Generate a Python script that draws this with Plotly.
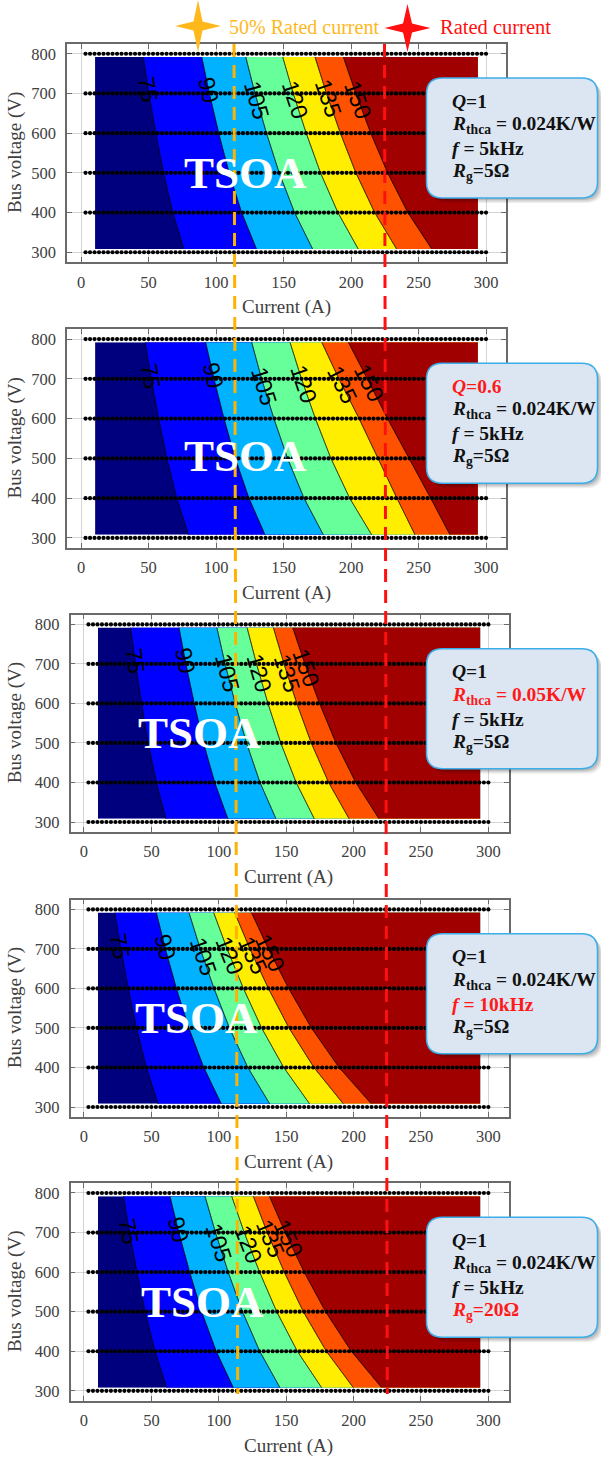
import numpy as np
import plotly.graph_objects as go

W, H = 601, 1458

# ---------------- data ----------------
LEVELS = [75, 90, 105, 120, 135, 150]
V_ROWS = [792, 700, 600, 500, 400, 308]          # bus voltages of the contour table (V)

# current (A) where each temperature level is crossed, at each of V_ROWS
panel1_contours = [
    [46.0, 50.2, 55.3, 61.0, 67.9, 76.0],
    [89.4, 95.1, 102.0, 109.7, 119.0, 130.0],
    [122.0, 128.9, 137.4, 146.8, 158.2, 171.6],
    [149.4, 157.2, 166.8, 177.4, 190.3, 205.4],
    [173.3, 181.8, 192.1, 203.6, 217.5, 233.8],
    [194.3, 203.5, 214.6, 227.1, 242.1, 259.8],
]
panel2_contours = [
    [47.4, 51.9, 57.4, 63.5, 70.8, 79.5],
    [92.3, 98.5, 105.9, 114.3, 124.4, 136.3],
    [126.4, 133.8, 142.9, 153.0, 165.2, 179.5],
    [154.8, 163.3, 173.6, 185.1, 199.0, 215.3],
    [178.3, 191.0, 206.0, 220.0, 234.0, 247.4],
    [198.0, 212.0, 227.0, 243.0, 259.0, 273.3],
]
panel3_contours = [
    [34.5, 38.2, 42.6, 47.6, 53.6, 60.7],
    [70.5, 75.6, 81.8, 88.7, 97.0, 106.8],
    [98.6, 104.7, 112.2, 120.6, 130.6, 142.5],
    [121.0, 128.0, 136.5, 146.0, 157.4, 170.9],
    [140.5, 148.4, 157.9, 168.6, 181.5, 196.7],
    [154.8, 163.8, 174.7, 186.9, 201.6, 218.9],
]
panel4_contours = [
    [22.8, 27.3, 32.8, 38.9, 46.2, 54.9],
    [53.7, 60.4, 68.6, 77.8, 88.9, 101.9],
    [77.9, 86.3, 96.5, 107.9, 121.6, 137.8],
    [96.2, 106.2, 118.3, 131.8, 148.2, 167.4],
    [111.8, 123.1, 136.8, 152.1, 170.6, 192.4],
    [124.2, 136.7, 151.8, 168.7, 189.2, 213.2],
]
panel5_contours = [
    [29.2, 33.7, 39.2, 45.3, 52.6, 61.3],
    [63.8, 70.4, 78.4, 87.3, 98.1, 110.8],
    [89.8, 97.6, 107.0, 117.6, 130.4, 145.4],
    [109.6, 118.9, 130.3, 143.0, 158.3, 176.3],
    [125.6, 136.0, 148.6, 162.7, 179.8, 199.8],
    [137.5, 149.2, 163.3, 179.2, 198.3, 220.8],
]
# voltage at which each contour label sits
label_V = [
    [709, 709, 684, 684, 688, 684],
    [707, 707, 682, 686, 686, 690],
    [707, 707, 677, 677, 677, 690],
    [706, 704, 681, 685, 685, 690],
    [702, 706, 676, 672, 685, 685],
]
tsoa_pos = [(121.5, 500), (121.5, 505), (86, 525), (83.6, 525), (87.6, 524)]

# simulation grid (dots)
grid_V = [300, 400, 500, 600, 700, 800]
grid_I = np.linspace(10 / 3, 300, 90)
calc_I = np.linspace(10.4, 294, 600)       # evaluated current range
calc_V = np.linspace(308, 792, 243)        # evaluated voltage range

x_ticks = [0, 50, 100, 150, 200, 250, 300]
y_ticks = [300, 400, 500, 600, 700, 800]

box_lines = [
    ["<b><i>Q</i>=1</b>", "<b><i>R</i><sub>thca</sub> = 0.024K/W</b>", "<b><i>f</i> = 5kHz</b>", "<b><i>R</i><sub>g</sub>=5Ω</b>"],
    ["<b><i>Q</i>=0.6</b>", "<b><i>R</i><sub>thca</sub> = 0.024K/W</b>", "<b><i>f</i> = 5kHz</b>", "<b><i>R</i><sub>g</sub>=5Ω</b>"],
    ["<b><i>Q</i>=1</b>", "<b><i>R</i><sub>thca</sub> = 0.05K/W</b>", "<b><i>f</i> = 5kHz</b>", "<b><i>R</i><sub>g</sub>=5Ω</b>"],
    ["<b><i>Q</i>=1</b>", "<b><i>R</i><sub>thca</sub> = 0.024K/W</b>", "<b><i>f</i> = 10kHz</b>", "<b><i>R</i><sub>g</sub>=5Ω</b>"],
    ["<b><i>Q</i>=1</b>", "<b><i>R</i><sub>thca</sub> = 0.024K/W</b>", "<b><i>f</i> = 5kHz</b>", "<b><i>R</i><sub>g</sub>=20Ω</b>"],
]
red_line = [None, 0, 1, 2, 3]

panels = [panel1_contours, panel2_contours, panel3_contours, panel4_contours, panel5_contours]

# ---------------- style / layout ----------------
band_colors = ['#00007F', '#0000FF', '#00B2FF', '#66FF99', '#FFEE00', '#FF5200', '#A00000']
colorscale = [[k / 6, c] for k, c in enumerate(band_colors)]

# pixel geometry of the panels
panel_top = [44, 329.3, 614.7, 899.7, 1183.3]
panel_bot = [262, 547.7, 831.7, 1116.7, 1400.5]
panel_left = [67, 67, 70.5, 70.5, 70.5]
panel_right = [506, 506, 509, 509, 509]
x_ranges = [[-10.4, 314.8], [-10.4, 314.8], [-10.0, 315.3], [-10.0, 315.3], [-10.0, 315.3]]
y_range = [275.5, 824.5]

SERIF = "Liberation Serif, Times New Roman, serif"
SANS = "Liberation Sans, Arial, sans-serif"
GREY = '#404040'


def X(px):
    return px / W


def Y(py):
    return 1 - py / H


def rrect(x0, y0, x1, y1, r):
    return (f"M {X(x0 + r)},{Y(y0)} L {X(x1 - r)},{Y(y0)} Q {X(x1)},{Y(y0)} {X(x1)},{Y(y0 + r)} "
            f"L {X(x1)},{Y(y1 - r)} Q {X(x1)},{Y(y1)} {X(x1 - r)},{Y(y1)} "
            f"L {X(x0 + r)},{Y(y1)} Q {X(x0)},{Y(y1)} {X(x0)},{Y(y1 - r)} "
            f"L {X(x0)},{Y(y0 + r)} Q {X(x0)},{Y(y0)} {X(x0 + r)},{Y(y0)} Z")


def star(cx, cy, w, h, inner):
    pts = [(cx, cy - h), (cx + inner, cy - inner), (cx + w, cy), (cx + inner, cy + inner),
           (cx, cy + h), (cx - inner, cy + inner), (cx - w, cy), (cx - inner, cy - inner)]
    return 'M ' + ' L '.join(f"{X(a)},{Y(b)}" for a, b in pts) + ' Z'


fig = go.Figure()
annotations = []
shapes = []
layout = {}
Vr = V_ROWS[::-1]

for i, cont in enumerate(panels):
    n = '' if i == 0 else str(i + 1)
    xa, ya = 'x' + n, 'y' + n
    # temperature field built from the contour crossing table
    z = []
    for V in calc_V:
        xs = [float(np.interp(V, Vr, c[::-1])) for c in cont]
        xp = [xs[0] - 25] + xs + [xs[-1] + 25]
        fp = [LEVELS[0] - 15] + LEVELS + [LEVELS[-1] + 15]
        z.append(np.interp(calc_I, xp, fp))
    fig.add_trace(go.Contour(
        x=calc_I, y=calc_V, z=z, xaxis=xa, yaxis=ya,
        autocontour=False,
        contours=dict(start=75, end=150, size=15, coloring='fill', showlines=True),
        line=dict(color='black', width=1, smoothing=0),
        colorscale=colorscale, showscale=False, hoverinfo='skip'))
    gx = np.tile(grid_I, len(grid_V))
    gy = np.repeat(grid_V, len(grid_I))
    fig.add_trace(go.Scatter(x=gx, y=gy, mode='markers', xaxis=xa, yaxis=ya,
                             marker=dict(size=4.2, color='black'), hoverinfo='skip',
                             showlegend=False))

    axis_common = dict(showline=True, linecolor='#6a6a6a', linewidth=1.5, mirror='ticks',
                       ticks='inside', ticklen=5, tickcolor='#6a6a6a', tickwidth=1,
                       showgrid=True, gridcolor='rgba(160,160,160,0.45)', gridwidth=1,
                       zeroline=False, layer='above traces',
                       tickfont=dict(family=SERIF, size=16.5, color=GREY))
    layout['xaxis' + n] = dict(axis_common, domain=[X(panel_left[i]), X(panel_right[i])],
                               range=x_ranges[i], anchor=ya, tickvals=x_ticks,
                               ticklabelstandoff=4)
    layout['yaxis' + n] = dict(axis_common, domain=[Y(panel_bot[i]), Y(panel_top[i])],
                               range=y_range, anchor=xa, tickvals=y_ticks,
                               ticklabelstandoff=6)

    # axis titles
    annotations.append(dict(xref='paper', yref='paper', x=X(15), y=Y((panel_top[i] + panel_bot[i]) / 2),
                            xanchor='center', yanchor='middle',
                            text='Bus voltage (V)', textangle=-90, showarrow=False,
                            font=dict(family=SERIF, size=19, color=GREY)))
    annotations.append(dict(xref=xa, yref='paper', x=152, y=Y(panel_bot[i] + 45),
                            xanchor='center', yanchor='middle', text='Current (A)', showarrow=False,
                            font=dict(family=SERIF, size=19, color=GREY)))

    # contour labels
    pxA = (panel_right[i] - panel_left[i]) / (x_ranges[i][1] - x_ranges[i][0])
    pxV = (panel_bot[i] - panel_top[i]) / (y_range[1] - y_range[0])
    for lev, c, lv in zip(LEVELS, cont, label_V[i]):
        cr = c[::-1]
        I0 = float(np.interp(lv, Vr, cr))
        dI = float(np.interp(lv - 20, Vr, cr) - np.interp(lv + 20, Vr, cr))
        ang = np.degrees(np.arctan2(40 * pxV, dI * pxA))
        annotations.append(dict(xref=xa, yref=ya, x=I0, y=lv, text=str(lev), showarrow=False,
                                xanchor='center', yanchor='middle',
                                textangle=float(ang), font=dict(family=SANS, size=23, color='black')))

    # TSOA
    annotations.append(dict(xref=xa, yref=ya, x=tsoa_pos[i][0], y=tsoa_pos[i][1], text='<b>TSOA</b>',
                            xanchor='center', yanchor='middle',
                            showarrow=False, font=dict(family=SERIF, size=45, color='white')))

    # info box
    bx0, bx1 = 426.5, 597.5
    by0, by1 = panel_top[i] + 34, panel_top[i] + 154
    r = 16
    for off, op in [(5, 0.07), (3.5, 0.10), (2, 0.12)]:
        shapes.append(dict(type='path', xref='paper', yref='paper',
                           path=rrect(bx0 + off, by0 + off, bx1 + off, by1 + off, r),
                           fillcolor=f'rgba(0,0,0,{op})', line=dict(width=0), layer='above'))
    shapes.append(dict(type='path', xref='paper', yref='paper', path=rrect(bx0, by0, bx1, by1, r),
                       fillcolor='#DCE6F2', line=dict(color='#3DADE8', width=1.5), layer='above'))
    for j, (txt, dy) in enumerate(zip(box_lines[i], [23, 47, 70.5, 94])):
        col = '#FF1A1A' if red_line[i] == j else '#111111'
        annotations.append(dict(xref='paper', yref='paper', x=X(450), y=Y(by0 + dy),
                                xanchor='left', yanchor='middle', text=txt, showarrow=False,
                                font=dict(family=SERIF, size=19.5, color=col)))

# dashed marker lines for 50 % rated and rated current
shapes.append(dict(type='line', xref='paper', yref='paper', x0=X(234), y0=Y(44), x1=X(237.7), y1=Y(1394),
                   line=dict(color='#FFB300', width=3, dash='13px,8px'), layer='above'))
shapes.append(dict(type='line', xref='paper', yref='paper', x0=X(384.5), y0=Y(44), x1=X(387.3), y1=Y(1394),
                   line=dict(color='#FF1010', width=3, dash='13px,8px'), layer='above'))

shapes.append(dict(type='path', xref='paper', yref='paper', path=star(198, 26, 23, 26, 4.5),
                   fillcolor='#FFB81C', line=dict(width=0), layer='above'))
shapes.append(dict(type='path', xref='paper', yref='paper', path=star(407.5, 28, 23, 24, 4.5),
                   fillcolor='#FF1010', line=dict(width=0), layer='above'))
annotations.append(dict(xref='paper', yref='paper', x=X(227), y=Y(27), xanchor='left', yanchor='middle',
                        text='50% Rated current', showarrow=False,
                        font=dict(family=SERIF, size=20, color='#FFB81C')))
annotations.append(dict(xref='paper', yref='paper', x=X(438), y=Y(27), xanchor='left', yanchor='middle',
                        text='Rated current', showarrow=False,
                        font=dict(family=SERIF, size=20.5, color='#FF1010')))

fig.update_layout(width=W, height=H, margin=dict(l=0, r=0, t=0, b=0),
                  paper_bgcolor='white', plot_bgcolor='white', showlegend=False,
                  annotations=annotations, shapes=shapes, **layout)
fig.write_html("out.html", config={'displayModeBar': False},
               post_script="document.body.style.margin='0px';document.body.style.overflow='hidden';")
